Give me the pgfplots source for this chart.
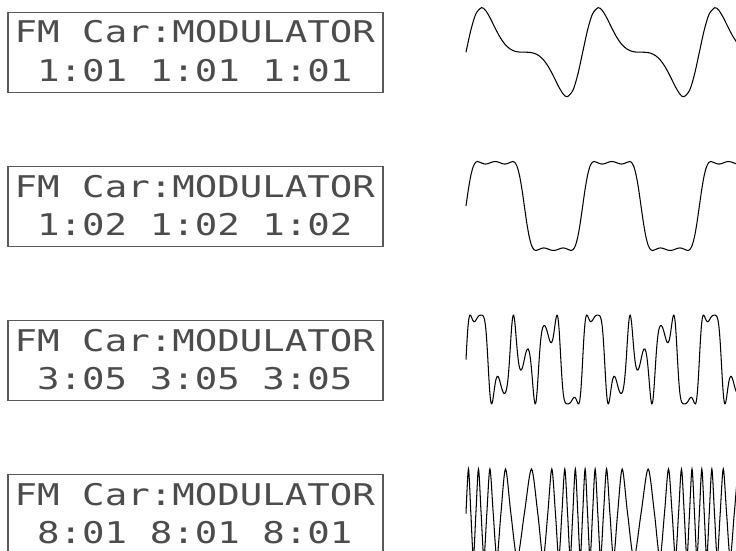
\documentclass[border=0pt]{standalone}
\usepackage{pgfplots}
\pgfplotsset{compat=1.18}
\usepackage{pgfplotstable}
\usepackage{graphicx}
\usepackage{fontspec}
\newfontfamily\lcdfont{DejaVu Sans Mono}
\newcommand\lcd[1]{\scalebox{1}[0.8]{\lcdfont\fontsize{37.4pt}{40pt}\selectfont #1}}

% wave 1: ratio 1:01
\pgfplotstableread{
s y
0 0
0.0417 0.4974
0.0833 0.8538
0.1324 1
0.1667 0.9420
0.2083 0.7622
0.25 0.5403
0.2917 0.3365
0.3333 0.1802
0.375 0.0783
0.4167 0.0236
0.4583 0.0030
0.5 0
0.5417 -0.0030
0.5833 -0.0236
0.625 -0.0783
0.6667 -0.1802
0.7083 -0.3365
0.75 -0.5403
0.7917 -0.7622
0.8333 -0.9420
0.8676 -1
0.9167 -0.8538
0.9583 -0.4974
1 0
1.0417 0.4974
1.0833 0.8538
1.1324 1
1.1667 0.9420
1.2083 0.7622
1.25 0.5403
1.2917 0.3365
1.3333 0.1802
1.375 0.0783
1.4167 0.0236
1.4583 0.0030
1.5 0
1.5417 -0.0030
1.5833 -0.0236
1.625 -0.0783
1.6667 -0.1802
1.7083 -0.3365
1.75 -0.5403
1.7917 -0.7622
1.8333 -0.9420
1.8676 -1
1.9167 -0.8538
1.9583 -0.4974
2 0
2.0417 0.4974
2.0833 0.8538
2.1324 1
2.1667 0.9420
2.2083 0.7622
2.25 0.5403
2.2917 0.3365
2.3333 0.1802
2.375 0.0783
2.4167 0.0236
}\waveA

% wave 2: ratio 1:02
\pgfplotstableread{
s y
0 0
0.0208 0.3799
0.0417 0.6902
0.0625 0.8911
0.0833 0.9836
0.0992 1
0.125 0.9770
0.1458 0.9519
0.1667 0.9420
0.1875 0.9510
0.2083 0.9718
0.2292 0.9918
0.25 1
0.2708 0.9918
0.2917 0.9718
0.3125 0.9510
0.3333 0.9420
0.3542 0.9519
0.375 0.9770
0.4008 1
0.4167 0.9836
0.4375 0.8911
0.4583 0.6902
0.4792 0.3799
0.5 0
0.5208 -0.3799
0.5417 -0.6902
0.5625 -0.8911
0.5833 -0.9836
0.5992 -1
0.625 -0.9770
0.6458 -0.9519
0.6667 -0.9420
0.6875 -0.9510
0.7083 -0.9718
0.7292 -0.9918
0.75 -1
0.7708 -0.9918
0.7917 -0.9718
0.8125 -0.9510
0.8333 -0.9420
0.8542 -0.9519
0.875 -0.9770
0.9008 -1
0.9167 -0.9836
0.9375 -0.8911
0.9583 -0.6902
0.9792 -0.3799
1 0
1.0208 0.3799
1.0417 0.6902
1.0625 0.8911
1.0833 0.9836
1.0992 1
1.125 0.9770
1.1458 0.9519
1.1667 0.9420
1.1875 0.9510
1.2083 0.9718
1.2292 0.9918
1.25 1
1.2708 0.9918
1.2917 0.9718
1.3125 0.9510
1.3333 0.9420
1.3542 0.9519
1.375 0.9770
1.4008 1
1.4167 0.9836
1.4375 0.8911
1.4583 0.6902
1.4792 0.3799
1.5 0
1.5208 -0.3799
1.5417 -0.6902
1.5625 -0.8911
1.5833 -0.9836
1.5992 -1
1.625 -0.9770
1.6458 -0.9519
1.6667 -0.9420
1.6875 -0.9510
1.7083 -0.9718
1.7292 -0.9918
1.75 -1
1.7708 -0.9918
1.7917 -0.9718
1.8125 -0.9510
1.8333 -0.9420
1.8542 -0.9519
1.875 -0.9770
1.9008 -1
1.9167 -0.9836
1.9375 -0.8911
1.9583 -0.6902
1.9792 -0.3799
2 0
2.0208 0.3799
2.0417 0.6902
2.0625 0.8911
2.0833 0.9836
2.0992 1
2.125 0.9770
2.1458 0.9519
2.1667 0.9420
2.1875 0.9510
2.2083 0.9718
2.2292 0.9918
2.25 1
2.2708 0.9918
2.2917 0.9718
2.3125 0.9510
2.3333 0.9420
2.3542 0.9519
2.375 0.9770
2.4008 1
2.4167 0.9836
}\waveB

% wave 3: ratio 3:05
\pgfplotstableread{
s y
0 0
0.0083 0.4040
0.0167 0.7272
0.025 0.9240
0.0333 0.9971
0.0417 0.9838
0.05 0.9317
0.0583 0.8801
0.0667 0.8517
0.075 0.8527
0.0833 0.8776
0.0917 0.9147
0.1 0.9511
0.1083 0.9775
0.1167 0.9918
0.125 0.9969
0.1333 0.9971
0.1417 0.9911
0.15 0.9673
0.1583 0.9014
0.1667 0.7619
0.175 0.5227
0.1833 0.1848
0.1917 -0.2108
0.2 -0.5878
0.2083 -0.8645
0.2167 -0.9918
0.225 -0.9723
0.2333 -0.8517
0.2417 -0.6903
0.25 -0.5402
0.2583 -0.4330
0.2667 -0.3807
0.275 -0.3823
0.2833 -0.4281
0.2917 -0.5026
0.3 -0.5878
0.3083 -0.6669
0.3167 -0.7272
0.325 -0.7604
0.3333 -0.7617
0.3417 -0.7235
0.35 -0.6334
0.3583 -0.4747
0.3667 -0.2355
0.375 0.0783
0.3833 0.4281
0.3917 0.7451
0.4 0.9511
0.4083 0.9948
0.4167 0.8776
0.425 0.6494
0.4333 0.3807
0.4417 0.1333
0.45 -0.0576
0.4583 -0.1795
0.4667 -0.2355
0.475 -0.2336
0.4833 -0.1848
0.4917 -0.1016
0.5 0
0.5083 0.1016
0.5167 0.1848
0.525 0.2336
0.5333 0.2355
0.5417 0.1795
0.55 0.0576
0.5583 -0.1333
0.5667 -0.3807
0.575 -0.6494
0.5833 -0.8776
0.5917 -0.9948
0.6 -0.9511
0.6083 -0.7451
0.6167 -0.4281
0.625 -0.0783
0.6333 0.2355
0.6417 0.4747
0.65 0.6334
0.6583 0.7235
0.6667 0.7617
0.675 0.7604
0.6833 0.7272
0.6917 0.6669
0.7 0.5878
0.7083 0.5026
0.7167 0.4281
0.725 0.3823
0.7333 0.3807
0.7417 0.4330
0.75 0.5402
0.7583 0.6903
0.7667 0.8517
0.775 0.9723
0.7833 0.9918
0.7917 0.8645
0.8 0.5878
0.8083 0.2108
0.8167 -0.1848
0.825 -0.5227
0.8333 -0.7619
0.8417 -0.9014
0.85 -0.9673
0.8583 -0.9911
0.8667 -0.9971
0.875 -0.9969
0.8833 -0.9918
0.8917 -0.9775
0.9 -0.9511
0.9083 -0.9147
0.9167 -0.8776
0.925 -0.8527
0.9333 -0.8517
0.9417 -0.8801
0.95 -0.9317
0.9583 -0.9838
0.9667 -0.9971
0.975 -0.9240
0.9833 -0.7272
0.9917 -0.4040
1 0
1.0083 0.4040
1.0167 0.7272
1.025 0.9240
1.0333 0.9971
1.0417 0.9838
1.05 0.9317
1.0583 0.8801
1.0667 0.8517
1.075 0.8527
1.0833 0.8776
1.0917 0.9147
1.1 0.9511
1.1083 0.9775
1.1167 0.9918
1.125 0.9969
1.1333 0.9971
1.1417 0.9911
1.15 0.9673
1.1583 0.9014
1.1667 0.7619
1.175 0.5227
1.1833 0.1848
1.1917 -0.2108
1.2 -0.5878
1.2083 -0.8645
1.2167 -0.9918
1.225 -0.9723
1.2333 -0.8517
1.2417 -0.6903
1.25 -0.5402
1.2583 -0.4330
1.2667 -0.3807
1.275 -0.3823
1.2833 -0.4281
1.2917 -0.5026
1.3 -0.5878
1.3083 -0.6669
1.3167 -0.7272
1.325 -0.7604
1.3333 -0.7617
1.3417 -0.7235
1.35 -0.6334
1.3583 -0.4747
1.3667 -0.2355
1.375 0.0783
1.3833 0.4281
1.3917 0.7451
1.4 0.9511
1.4083 0.9948
1.4167 0.8776
1.425 0.6494
1.4333 0.3807
1.4417 0.1333
1.45 -0.0576
1.4583 -0.1795
1.4667 -0.2355
1.475 -0.2336
1.4833 -0.1848
1.4917 -0.1016
1.5 0
1.5083 0.1016
1.5167 0.1848
1.525 0.2336
1.5333 0.2355
1.5417 0.1795
1.55 0.0576
1.5583 -0.1333
1.5667 -0.3807
1.575 -0.6494
1.5833 -0.8776
1.5917 -0.9948
1.6 -0.9511
1.6083 -0.7451
1.6167 -0.4281
1.625 -0.0783
1.6333 0.2355
1.6417 0.4747
1.65 0.6334
1.6583 0.7235
1.6667 0.7617
1.675 0.7604
1.6833 0.7272
1.6917 0.6669
1.7 0.5878
1.7083 0.5026
1.7167 0.4281
1.725 0.3823
1.7333 0.3807
1.7417 0.4330
1.75 0.5402
1.7583 0.6903
1.7667 0.8517
1.775 0.9723
1.7833 0.9918
1.7917 0.8645
1.8 0.5878
1.8083 0.2108
1.8167 -0.1848
1.825 -0.5227
1.8333 -0.7619
1.8417 -0.9014
1.85 -0.9673
1.8583 -0.9911
1.8667 -0.9971
1.875 -0.9969
1.8833 -0.9918
1.8917 -0.9775
1.9 -0.9511
1.9083 -0.9147
1.9167 -0.8776
1.925 -0.8527
1.9333 -0.8517
1.9417 -0.8801
1.95 -0.9317
1.9583 -0.9838
1.9667 -0.9971
1.975 -0.9240
1.9833 -0.7272
1.9917 -0.4040
2 0
2.0083 0.4040
2.0167 0.7272
2.025 0.9240
2.0333 0.9971
2.0417 0.9838
2.05 0.9317
2.0583 0.8801
2.0667 0.8517
2.075 0.8527
2.0833 0.8776
2.0917 0.9147
2.1 0.9511
2.1083 0.9775
2.1167 0.9918
2.125 0.9969
2.1333 0.9971
2.1417 0.9911
2.15 0.9673
2.1583 0.9014
2.1667 0.7619
2.175 0.5227
2.1833 0.1848
2.1917 -0.2108
2.2 -0.5878
2.2083 -0.8645
2.2167 -0.9918
2.225 -0.9723
2.2333 -0.8517
2.2417 -0.6903
2.25 -0.5402
2.2583 -0.4330
2.2667 -0.3807
2.275 -0.3823
2.2833 -0.4281
2.2917 -0.5026
2.3 -0.5878
2.3083 -0.6669
2.3167 -0.7272
2.325 -0.7604
2.3333 -0.7617
2.3417 -0.7235
2.35 -0.6334
2.3583 -0.4747
2.3667 -0.2355
2.375 0.0783
2.3833 0.4281
}\waveC

% wave 4: ratio 8:01
\pgfplotstableread{
s y
0 0
0.0209 1
0.0418 0
0.0631 -1
0.0847 0
0.1068 1
0.1296 0
0.1534 -1
0.1784 0
0.2049 1
0.2334 0
0.2645 -1
0.2992 0
0.3387 1
0.3848 0
0.4390 -1
0.5 0
0.5610 1
0.6152 0
0.6613 -1
0.7008 0
0.7355 1
0.7666 0
0.7951 -1
0.8216 0
0.8466 1
0.8704 0
0.8932 -1
0.9153 0
0.9370 1
0.9582 0
0.9791 -1
1 0
1.0209 1
1.0418 0
1.0631 -1
1.0847 0
1.1068 1
1.1296 0
1.1534 -1
1.1784 0
1.2049 1
1.2334 0
1.2645 -1
1.2992 0
1.3387 1
1.3848 0
1.4390 -1
1.5 0
1.5610 1
1.6152 0
1.6613 -1
1.7008 0
1.7355 1
1.7666 0
1.7951 -1
1.8216 0
1.8466 1
1.8704 0
1.8932 -1
1.9153 0
1.9370 1
1.9582 0
1.9791 -1
2 0
2.0209 1
2.0418 0
2.0631 -1
2.0847 0
2.1068 1
2.1296 0
2.1534 -1
2.1784 0
2.2049 1
2.2334 0
2.2645 -1
2.2992 0
2.3387 1
2.3848 0
2.4390 -1
}\waveD

\pgfplotsset{
  wave/.style={anchor=west, width=274.2pt, height=89pt, scale only axis,
    xmin=0, xmax=2.35, ymin=-1, ymax=1, hide axis, clip=false},
  waveline/.style={black, line width=1.05pt, smooth},
}
\tikzset{lcdbox/.style={draw=black!65, line width=1.1pt},
  lcdtext/.style={anchor=base west, inner sep=0pt, text=black!70}}

\begin{document}
\begin{tikzpicture}
\useasboundingbox (0pt,0pt) rectangle (736pt,-551pt);
\begin{scope}
\clip (0pt,0pt) rectangle (736pt,-551pt);

% LCD panels
\draw[lcdbox] (8pt,-12.7pt) rectangle (383pt,-92.2pt);
\node[lcdtext] at (14.5pt,-43pt) {\lcd{FM Car:MODULATOR}};
\node[lcdtext] at (37pt,-81.7pt) {\lcd{1:01 1:01 1:01}};

\draw[lcdbox] (8pt,-166.7pt) rectangle (383pt,-246.2pt);
\node[lcdtext] at (14.5pt,-197pt) {\lcd{FM Car:MODULATOR}};
\node[lcdtext] at (37pt,-235.7pt) {\lcd{1:02 1:02 1:02}};

\draw[lcdbox] (8pt,-320.7pt) rectangle (383pt,-400.2pt);
\node[lcdtext] at (14.5pt,-351pt) {\lcd{FM Car:MODULATOR}};
\node[lcdtext] at (37pt,-389.7pt) {\lcd{3:05 3:05 3:05}};

\draw[lcdbox] (8pt,-474.7pt) rectangle (383pt,-554.2pt);
\node[lcdtext] at (14.5pt,-505pt) {\lcd{FM Car:MODULATOR}};
\node[lcdtext] at (37pt,-543.7pt) {\lcd{8:01 8:01 8:01}};

% waveforms
\begin{axis}[wave, at={(466pt,-52.2pt)}]
\addplot[waveline] table {\waveA};
\end{axis}
\begin{axis}[wave, at={(466pt,-206pt)}]
\addplot[waveline] table {\waveB};
\end{axis}
\begin{axis}[wave, at={(466pt,-359.5pt)}]
\addplot[waveline] table {\waveC};
\end{axis}
\begin{axis}[wave, at={(466pt,-513.5pt)}]
\addplot[waveline] table {\waveD};
\end{axis}
\end{scope}
\end{tikzpicture}
\end{document}
